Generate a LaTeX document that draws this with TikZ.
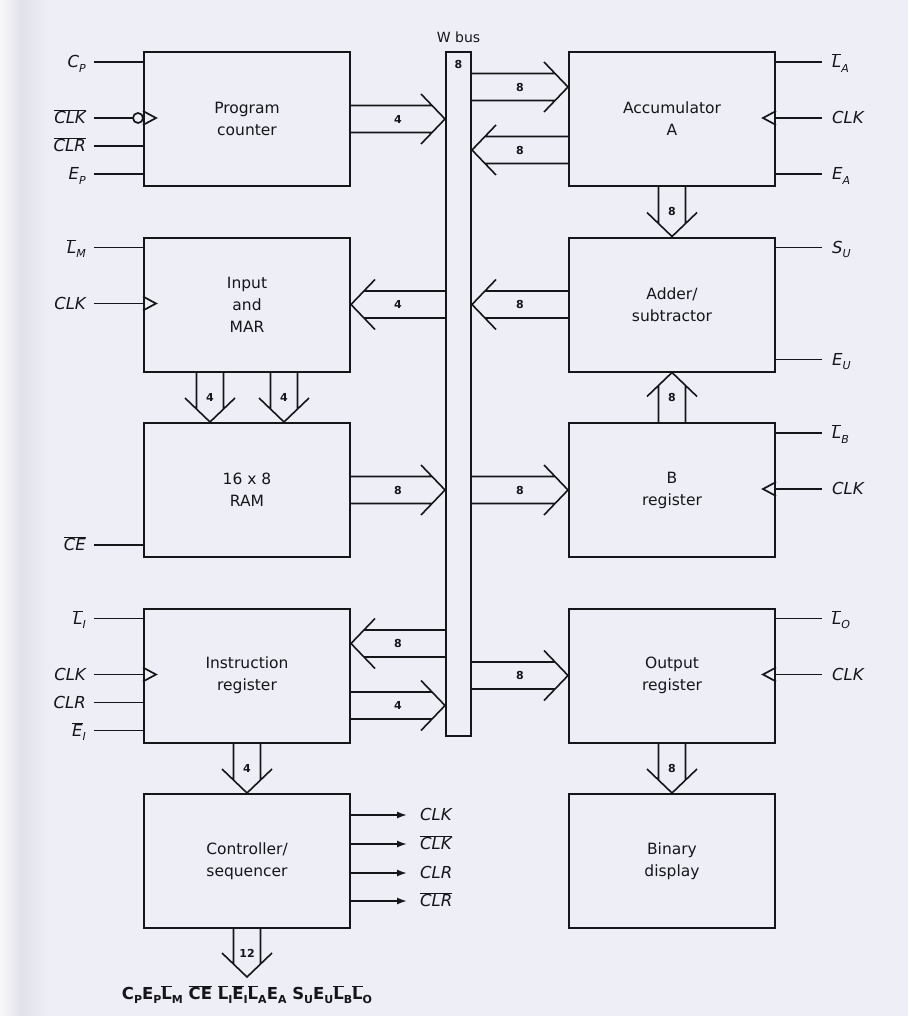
\documentclass[tikz,border=0pt]{standalone}
\usepackage{fontspec}
\setmainfont{DejaVu Sans}
\usetikzlibrary{positioning,arrows.meta,calc}
\definecolor{Ink}{RGB}{22,22,26}
\definecolor{Paper}{RGB}{237,238,246}
\newcommand{\ov}[1]{$\overline{\mbox{#1}}$}
\newcommand{\sbs}[1]{\raisebox{-.5ex}{\fontsize{11}{11}\selectfont #1}}
\newcommand{\sigf}{\fontsize{16.5}{16.5}\selectfont\itshape}
% wide bus arrow: tail, tip, width label
\newcommand{\wbus}[3]{\draw[wl] let \p1=($(#2)-(#1)$),\n1={atan2(\y1,\x1)},\n2={veclen(\x1,\y1)} in
 {[shift={(#2)},rotate=\n1] (-\n2,13.5)--(-13,13.5) (-\n2,-13.5)--(-13,-13.5) (-24,25)--(0,0)--(-24,-25) (-\n2/2,0) node[num]{#3}};}
% control line on the left / right of a block: name, block, offset from top, text
\newcommand{\lsig}[4]{\node[sl] (#1) at ([xshift=-49pt,yshift=-#3pt]#2.north west) {#4};
 \draw[w] (#1.east) -- (#1.east -| #2.west);}
\newcommand{\rsig}[4]{\node[sr] (#1) at ([xshift=46pt,yshift=-#3pt]#2.north east) {#4};
 \draw[w] (#1.west) -- (#1.west -| #2.east);}

\begin{document}
\begin{tikzpicture}[x=1pt,y=1pt,node distance=49.5pt,
 blk/.style={draw=Ink,line width=2pt,minimum width=206pt,minimum height=134pt,inner sep=0pt,align=center,text=Ink,font=\fontsize{15.5}{22}\selectfont},
 busb/.style={draw=Ink,line width=2pt,minimum width=25pt,minimum height=684pt,inner sep=0pt},
 w/.style={draw=Ink,line width=1.7pt},
 wl/.style={draw=Ink,line width=1.6pt,line join=miter},
 num/.style={text=Ink,font=\fontsize{11}{11}\selectfont\bfseries},
 sl/.style={anchor=east,inner xsep=8pt,text height=11.5pt,text depth=0pt,text=Ink,font=\sigf},
 sr/.style={anchor=west,inner xsep=10pt,text height=11.5pt,text depth=0pt,text=Ink,font=\sigf},
 clk/.pic={\draw[w] (0,7)--(13,0)--(0,-7);}]
\useasboundingbox (0,0) rectangle (908,-1016);
\fill[Paper] (0,0) rectangle (908,-1016);
\shade[left color=Paper!40!white,right color=Paper!95!black] (0,0) rectangle (22,-1016);
\shade[left color=Paper!95!black,right color=Paper] (22,0) rectangle (50,-1016);

% blocks
\node[blk] (pc) at (247,-119) {Program\\counter};
\node[blk,below=of pc] (mar) {Input\\and\\MAR};
\node[blk,below=of mar] (ram) {16 x 8\\RAM};
\node[blk,below=of ram] (ir) {Instruction\\register};
\node[blk,below=of ir] (ctl) {Controller/\\sequencer};
\node[blk,right=217pt of pc] (acc) {Accumulator\\A};
\node[blk,below=of acc] (add) {Adder/\\subtractor};
\node[blk,below=of add] (breg) {B\\register};
\node[blk,below=of breg] (out) {Output\\register};
\node[blk,below=of out] (disp) {Binary\\display};
\node[busb,anchor=north west] (bus) at ([xshift=94pt]pc.north east) {};
\node[above=5pt of bus,text=Ink,font=\fontsize{14}{14}\selectfont] (wb) {W bus};
\node[num,below=6pt of bus.north] (bw) {8};

% control inputs
\lsig{cp}{pc}{11}{C\sbs{P}}
\lsig{clkp}{pc}{67}{\ov{CLK}}
\lsig{clrp}{pc}{95}{\ov{CLR}}
\lsig{ep}{pc}{123}{E\sbs{P}}
\lsig{lm}{mar}{11}{\ov{L}\sbs{M}}
\lsig{clkm}{mar}{67}{CLK}
\lsig{ce}{ram}{123}{\ov{CE}}
\lsig{li}{ir}{11}{\ov{L}\sbs{I}}
\lsig{clki}{ir}{67}{CLK}
\lsig{clri}{ir}{95}{CLR}
\lsig{ei}{ir}{123}{\ov{E}\sbs{I}}
\rsig{la}{acc}{11}{\ov{L}\sbs{A}}
\rsig{clka}{acc}{67}{CLK}
\rsig{ea}{acc}{123}{E\sbs{A}}
\rsig{su}{add}{11}{S\sbs{U}}
\rsig{eu}{add}{123}{E\sbs{U}}
\rsig{lb}{breg}{11}{\ov{L}\sbs{B}}
\rsig{clkb}{breg}{67}{CLK}
\rsig{lo}{out}{11}{\ov{L}\sbs{O}}
\rsig{clko}{out}{67}{CLK}

% clock marks
\pic at (clkp.east -| pc.west) {clk};
\draw[w,fill=Paper] ($(clkp.east -| pc.west)+(-5,0)$) circle (5pt);
\pic at (clkm.east -| mar.west) {clk};
\pic at (clki.east -| ir.west) {clk};
\pic[rotate=180] at (clka.west -| acc.east) {clk};
\pic[rotate=180] at (clkb.west -| breg.east) {clk};
\pic[rotate=180] at (clko.west -| out.east) {clk};

% controller outputs
\node[sr,inner xsep=13pt] (ck) at ([xshift=56pt,yshift=-22pt]ctl.north east) {CLK};
\node[sr,inner xsep=13pt] (nck) at ([xshift=56pt,yshift=-51pt]ctl.north east) {\ov{CLK}};
\node[sr,inner xsep=13pt] (cr) at ([xshift=56pt,yshift=-80pt]ctl.north east) {CLR};
\node[sr,inner xsep=13pt] (ncr) at ([xshift=56pt,yshift=-108pt]ctl.north east) {\ov{CLR}};
\draw[w,-{Latex[length=10pt,width=7pt]}] (ck.west -| ctl.east) -- (ck.west);
\draw[w,-{Latex[length=10pt,width=7pt]}] (nck.west -| ctl.east) -- (nck.west);
\draw[w,-{Latex[length=10pt,width=7pt]}] (cr.west -| ctl.east) -- (cr.west);
\draw[w,-{Latex[length=10pt,width=7pt]}] (ncr.west -| ctl.east) -- (ncr.west);

% bus transfers
\coordinate (ai) at ([yshift=32pt]acc.west);
\coordinate (ao) at ([yshift=-31pt]acc.west);
\coordinate (ii) at ([yshift=32pt]ir.east);
\coordinate (io) at ([yshift=-30pt]ir.east);
\coordinate (co) at ([yshift=-48pt]ctl.south);
\wbus{pc.east}{pc.east -| bus.west}{4}
\wbus{bus.east |- ai}{ai}{8}
\wbus{ao}{bus.east |- ao}{8}
\wbus{acc.south}{add.north}{8}
\wbus{bus.west |- mar.east}{mar.east}{4}
\wbus{add.west}{add.west -| bus.east}{8}
\wbus{breg.north}{add.south}{8}
\wbus{[xshift=-37pt]mar.south}{[xshift=-37pt]ram.north}{4}
\wbus{[xshift=37pt]mar.south}{[xshift=37pt]ram.north}{4}
\wbus{ram.east}{ram.east -| bus.west}{8}
\wbus{bus.east |- breg.west}{breg.west}{8}
\wbus{bus.west |- ii}{ii}{8}
\wbus{io}{io -| bus.west}{4}
\wbus{bus.east |- out.west}{out.west}{8}
\wbus{out.south}{disp.north}{8}
\wbus{ir.south}{ctl.north}{4}
\wbus{ctl.south}{co}{12}
\node[below=8pt of co,inner sep=0pt,text=Ink,font=\fontsize{16.5}{16.5}\selectfont\bfseries] (bits)
 {C\sbs{P}E\sbs{P}\ov{L}\sbs{M}\ \ov{CE}\ \ov{L}\sbs{I}\ov{E}\sbs{I}\ov{L}\sbs{A}E\sbs{A}\ S\sbs{U}E\sbs{U}\ov{L}\sbs{B}\ov{L}\sbs{O}};
\end{tikzpicture}
\end{document}
